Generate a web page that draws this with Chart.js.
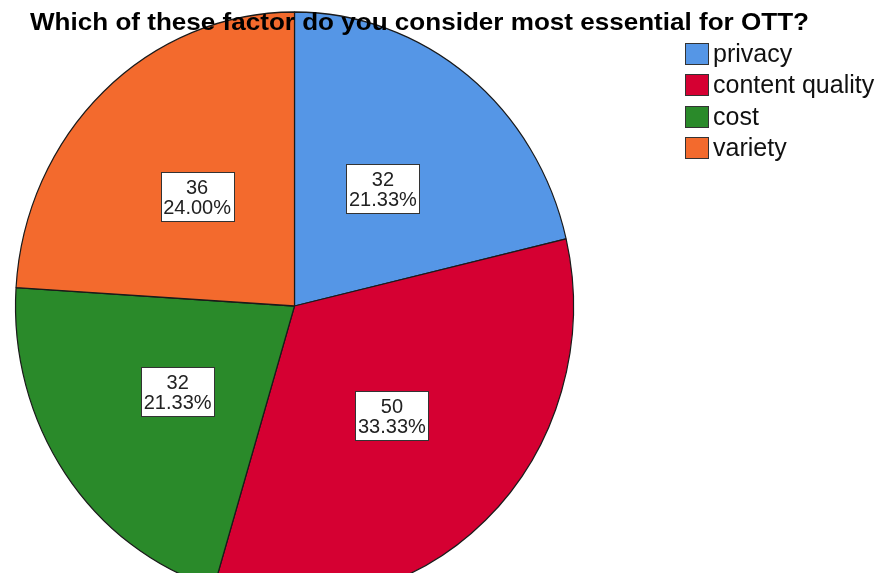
<!DOCTYPE html>
<html>
<head>
<meta charset="utf-8">
<script src="https://cdn.jsdelivr.net/npm/chart.js@4/dist/chart.umd.min.js"></script>
<style>
  html, body { margin: 0; padding: 0; background: #fff; overflow: hidden; width: 881px; height: 573px; }
  canvas { display: block; }
</style>
</head>
<body>
<canvas id="pieChart" width="881" height="620"></canvas>
<script>
const chartTitle = 'Which of these factor do you consider most essential for OTT?';
const categories = ['privacy', 'content quality', 'cost', 'variety'];
const counts = [32, 50, 32, 36];
const sliceColors = ['#5596e6', '#d50032', '#2a8a2a', '#f36a2d'];

const total = counts.reduce((a, b) => a + b, 0);
const percents = counts.map(v => (v / total * 100).toFixed(2) + '%');

// the original pie is a bit taller than wide
const stretchY = 294 / 279;
const FONT = '"Liberation Sans", Arial, sans-serif';

const ellipsePlugin = {
  id: 'ellipse',
  beforeDatasetsDraw(chart) {
    const arc = chart.getDatasetMeta(0).data[0];
    const c = chart.ctx;
    c.save();
    c.translate(arc.x, arc.y);
    c.scale(1, stretchY);
    c.translate(-arc.x, -arc.y);
  },
  afterDatasetsDraw(chart) {
    chart.ctx.restore();
  }
};

const decorPlugin = {
  id: 'decor',
  afterDraw(chart) {
    const c = chart.ctx;

    // slice labels
    c.font = '20px ' + FONT;
    chart.getDatasetMeta(0).data.forEach((arc, i) => {
      const p = arc.getProps(['x', 'y', 'startAngle', 'endAngle', 'outerRadius'], true);
      const mid = (p.startAngle + p.endAngle) / 2;
      const lx = p.x + Math.cos(mid) * p.outerRadius * 0.51;
      const ly = p.y + Math.sin(mid) * p.outerRadius * 0.51 * stretchY;
      const lines = [String(counts[i]), percents[i]];
      const w = Math.round(Math.max(...lines.map(t => c.measureText(t).width)) + 5);
      const h = 49;
      const bx = Math.round(lx - w / 2), by = Math.round(ly - h / 2);
      c.fillStyle = '#fff';
      c.fillRect(bx, by, w, h);
      c.strokeStyle = '#333';
      c.lineWidth = 1;
      c.strokeRect(bx + 0.5, by + 0.5, w, h);
      c.fillStyle = '#222';
      c.textAlign = 'center';
      c.textBaseline = 'alphabetic';
      c.fillText(lines[0], lx, ly - 2.5);
      c.fillText(lines[1], lx, ly + 17.5);
    });

    // title
    c.save();
    c.font = 'bold 24px ' + FONT;
    c.fillStyle = '#000';
    c.textAlign = 'left';
    const tw = c.measureText(chartTitle).width;
    c.translate(30, 29.5);
    c.scale(779 / tw, 1);
    c.fillText(chartTitle, 0, 0);
    c.restore();

    // legend
    c.font = '25px ' + FONT;
    c.textAlign = 'left';
    categories.forEach((name, i) => {
      const y = Math.round(43 + i * 31.3);
      c.fillStyle = sliceColors[i];
      c.fillRect(685, y, 24, 22);
      c.strokeStyle = '#333';
      c.lineWidth = 1;
      c.strokeRect(685.5, y + 0.5, 23, 21);
      c.fillStyle = '#111';
      c.fillText(name, 713, y + 19);
    });
  }
};

new Chart(document.getElementById('pieChart'), {
  type: 'pie',
  data: {
    labels: categories,
    datasets: [{
      data: counts,
      backgroundColor: sliceColors,
      borderColor: '#1a1a1a',
      borderWidth: 1.2,
      radius: 279
    }]
  },
  options: {
    responsive: false,
    animation: false,
    events: [],
    layout: { padding: { left: 14.5, right: 306.5, top: 26, bottom: 34 } },
    plugins: {
      legend: { display: false },
      tooltip: { enabled: false },
      title: { display: false }
    }
  },
  plugins: [ellipsePlugin, decorPlugin]
});
</script>
</body>
</html>
